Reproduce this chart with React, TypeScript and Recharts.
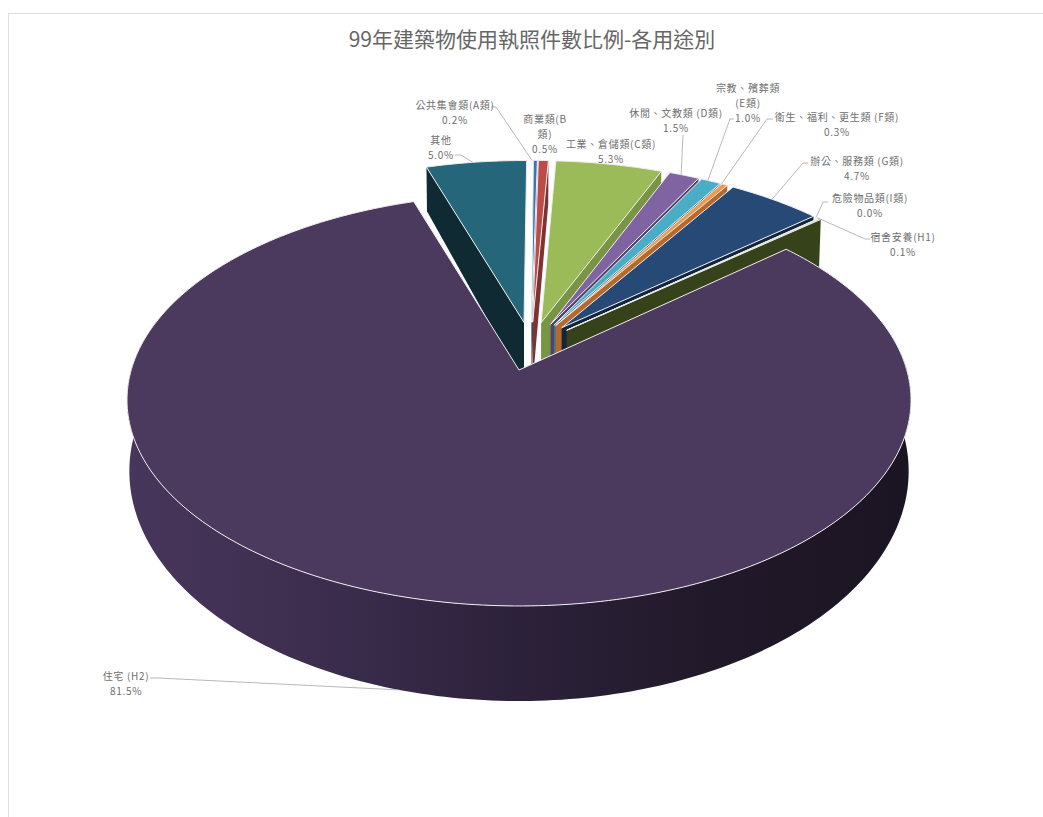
import React from 'react';
import { PieChart, Pie } from 'recharts';

const categories = ['其他', '公共集會類(A類)', '商業類(B\n類)', '工業、倉儲類(C類)', '休閒、文教類 (D類)', '宗教、殯葬類\n(E類)', '衛生、福利、更生類 (F類)', '辦公、服務類 (G類)', '危險物品類(I類)', '宿舍安養(H1)', '住宅 (H2)'];
const values = [5.0, 0.2, 0.5, 5.3, 1.5, 1.0, 0.3, 4.7, 0.03, 0.1, 81.5];
const topColors = ['#25667a', '#3f72b8', '#be4b48', '#9bbb59', '#8064a2', '#4bacc6', '#f79646', '#264a75', '#9a3a38', '#c3d69b', '#4c3a5e'];
const wallColors = ['#0f2a33', '#2a4c7a', '#7f3230', '#7a9446', '#54406e', '#307a8e', '#b56a2c', '#12263f', '#5a2220', '#36431a', '#2c2139'];

// label anchor (text centre x, first-line centre y) and leader bend, per category
const labelBoxes = [
  { x: 441, y: 139, bend: [[455, 155], [461, 155]] },
  { x: 455, y: 104, bend: [[491, 107], [496, 107]] },
  { x: 545, y: 118, bend: null },
  { x: 611, y: 143, bend: null },
  { x: 676, y: 112, bend: [[683, 135]] },
  { x: 748, y: 87, bend: [[734, 119], [730, 119]] },
  { x: 837, y: 116, bend: [[773, 119], [767, 119]] },
  { x: 857, y: 160, bend: [[808, 163], [803, 163]] },
  { x: 870, y: 197, bend: [[828, 202], [823, 202]] },
  { x: 903, y: 236, bend: [[870, 239], [865, 239]] },
  { x: 126, y: 675, bend: [[150, 678], [158, 678]] },
];

const CX = 519;
const TOP_Y = 370;
const BOT_Y = 437.7;
const K = 0.1456;
const EXPLODE = 0.125;
const BASE = { u: 0.033, v: 0.1206 };
const SMALL_RIM = 0.98;
const SMALL_TURN = 0.6;

const top = (u: number, v: number): [number, number] => {
  const w = 1 + K * v;
  return [CX + (387.8 * u) / w, TOP_Y - (201.6 * v) / w];
};
const bot = (u: number, v: number): [number, number] => {
  const w = 1 + K * v;
  return [CX + (385.5 * u) / w, BOT_Y - (225 * v) / w];
};
const rad = (d: number) => (d * Math.PI) / 180;
const dir = (d: number): [number, number] => [Math.sin(rad(d)), Math.cos(rad(d))];
const path = (pts: [number, number][]) =>
  'M' + pts.map((p) => `${p[0].toFixed(2)},${p[1].toFixed(2)}`).join('L') + 'Z';

const centreOf = (phiS: number, phiE: number): [number, number] => {
  const [a, b] = dir((phiS + phiE) / 2);
  return [BASE.u + EXPLODE * a, BASE.v + EXPLODE * b];
};

const Slice3D = (props: any) => {
  const { startAngle, endAngle, payload, index } = props;
  const phiS = 90 - startAngle;
  const phiE = 90 - endAngle;
  const span = phiE - phiS;
  const isMain = span > 180;
  const [cu, cv] = isMain ? [0, 0] : centreOf(phiS, phiE);
  const rimAt = (phi: number): [number, number] => {
    const [a, b] = isMain ? dir(phi) : dir(phi + SMALL_TURN);
    const r = isMain ? 1 : SMALL_RIM;
    return [cu + r * a, cv + r * b];
  };
  const steps = Math.max(1, Math.ceil(span));
  const angles: number[] = [];
  for (let i = 0; i <= steps; i++) angles.push(phiS + (span * i) / steps);

  const name = payload?.name ?? categories[index];
  const i = categories.indexOf(name);
  const wall = wallColors[i];
  const walls: React.ReactNode[] = [];
  const radial = (phi: number, key: string) => {
    const [u, v] = rimAt(phi);
    walls.push(
      <path key={key} d={path([top(cu, cv), top(u, v), bot(u, v), bot(cu, cv)])} fill={wall} />,
    );
  };
  if (Math.sin(rad(phiS)) < -1e-6) radial(phiS, 's');
  if (Math.sin(rad(phiE)) > 1e-6) radial(phiE, 'e');

  if (isMain) {
    const vis = angles.filter((a) => Math.cos(rad(a)) < 0.25);
    const upper = vis.map((a) => top(...rimAt(a)));
    const lower = vis.map((a) => bot(...rimAt(a))).reverse();
    walls.push(<path key="rim" d={path([...upper, ...lower])} fill="url(#mainWall)" />);
  }
  const face = [top(cu, cv), ...angles.map((a) => top(...rimAt(a)))];
  return (
    <g>
      {isMain && (
        <defs>
          <linearGradient id="mainWall" gradientUnits="userSpaceOnUse" x1="128" x2="912" y1="0" y2="0">
            <stop offset="0" stopColor="#47365b" />
            <stop offset="0.25" stopColor="#3c2d4e" />
            <stop offset="0.5" stopColor="#2c213a" />
            <stop offset="0.75" stopColor="#211929" />
            <stop offset="1" stopColor="#1b1422" />
          </linearGradient>
        </defs>
      )}
      {walls}
      <path d={path(face)} fill={topColors[i]} stroke="#eeeeee" strokeWidth={1} strokeLinejoin="round" />
    </g>
  );
};

const textStyle = { fontFamily: '"Noto Sans CJK TC", serif', fontSize: 10, fill: '#6e6e6e', letterSpacing: 0.7 };

const SliceLabel = (props: any) => {
  const { startAngle, endAngle, payload, index } = props;
  const name = payload?.name ?? categories[index];
  const i = categories.indexOf(name);
  const box = labelBoxes[i];
  const phiS = 90 - startAngle;
  const phiE = 90 - endAngle;
  const mid = (phiS + phiE) / 2;
  const isMain = phiE - phiS > 180;
  const [cu, cv] = isMain ? [0, 0] : centreOf(phiS, phiE);
  const [a, b] = dir(mid);
  const r = isMain ? 1 : SMALL_RIM;
  const end = isMain ? bot(cu + a, cv + b) : top(cu + r * a, cv + r * b);
  const lines = [...name.split('\n'), `${values[i].toFixed(1)}%`];
  return (
    <g>
      {box.bend && (
        <polyline
          points={[...box.bend, end].map((p) => p.join(',')).join(' ')}
          fill="none"
          stroke="#a6a6a6"
          strokeWidth={0.8}
        />
      )}
      {lines.map((t: string, k: number) => (
        <text key={k} x={box.x} y={box.y + k * 15} textAnchor="middle" dominantBaseline="central" style={textStyle}>
          {t}
        </text>
      ))}
    </g>
  );
};

const chartData = categories.map((name, i) => ({ name, value: values[i] }));

export default function App() {
  return (
    <div style={{ position: 'absolute', left: 0, top: 0, width: 1043, height: 817, overflow: 'hidden', background: '#fff' }}>
      <div style={{ position: 'absolute', left: 8, top: 13, width: 1040, height: 810, borderTop: '1px solid #dedede', borderLeft: '1px solid #dedede' }} />
      <PieChart width={1043} height={817} style={{ position: 'absolute', left: 0, top: 0 }}>
        <text x={532} y={38} textAnchor="middle" dominantBaseline="central" style={{ fontFamily: '"Noto Sans CJK TC", serif', fontSize: 21, fill: '#666666' }}>
          99年建築物使用執照件數比例-各用途別
        </text>
        <Pie
          data={chartData}
          dataKey="value"
          nameKey="name"
          cx={CX}
          cy={TOP_Y}
          outerRadius={200}
          startAngle={108}
          endAngle={-252}
          isAnimationActive={false}
          shape={Slice3D}
          activeShape={Slice3D}
          inactiveShape={Slice3D}
          label={SliceLabel}
          labelLine={false}
        />
      </PieChart>
    </div>
  );
}
